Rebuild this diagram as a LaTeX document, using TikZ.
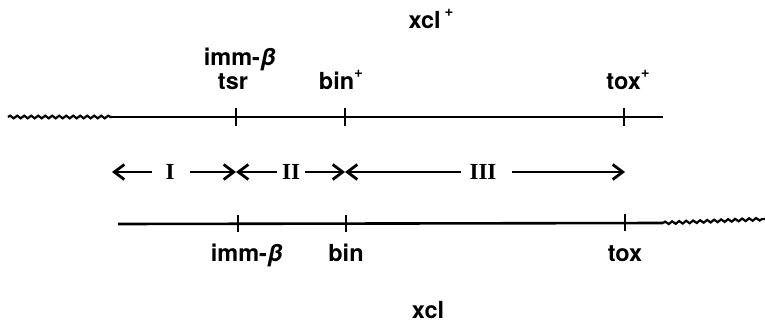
\documentclass[tikz,border=0pt]{standalone}
\usepackage{fontspec}
\setmainfont{TeX Gyre Heros}
\newfontfamily\romfont{Liberation Serif}
\newcommand\supplus{\raisebox{0.5em}{\fontsize{15}{15}\selectfont\bfseries +}}
\usetikzlibrary{arrows.meta,decorations.pathmorphing}
\begin{document}
\begin{tikzpicture}[x=1pt,y=-1pt,
  lbl/.style={font=\bfseries\fontsize{23.5}{25}\selectfont, anchor=base, inner sep=0pt},
  rom/.style={font=\romfont\bfseries\fontsize{23}{25}\selectfont, anchor=center, inner sep=0pt},
  gene/.style={line width=2.6pt},
  tick/.style={line width=2.6pt},
  wavy/.style={line width=2.2pt, decorate, decoration={snake, segment length=7pt, amplitude=1.3pt}},
  reg/.style={line width=2.6pt, -{Straight Barb[length=10pt,width=15pt,line width=2.8pt]}}]
\useasboundingbox (0,0) rectangle (765,324);
% top chromosome
\coordinate (tw) at (8,117);
\coordinate (tl) at (112,117);
\coordinate (tr) at (663,117);
\coordinate (t1) at (236,117);
\coordinate (t2) at (345,117);
\coordinate (t3) at (624,117);
\draw[wavy] (tw) -- (tl);
\draw[gene] (tl) -- (tr);
\foreach \c in {t1,t2,t3} \draw[tick] ([yshift=-9pt]\c) -- ([yshift=9pt]\c);
% bottom chromosome
\coordinate (bl) at (118,224);
\coordinate (br) at (663,223);
\coordinate (bw) at (765,219);
\coordinate (b1) at (238,224);
\coordinate (b2) at (346,224);
\coordinate (b3) at (625,223);
\draw[gene] (bl) -- (br);
\draw[wavy] (br) -- (bw);
\foreach \c in {b1,b2,b3} \draw[tick] ([yshift=-8pt]\c) -- ([yshift=9pt]\c);
% top labels
\node[lbl] (xclp) at (431,28) {xcl\,\supplus};
\node[lbl] (immt) at (240,65) {imm-{\itshape β}};
\node[lbl] (tsr) at (233,89) {tsr};
\node[lbl] (binp) at (341,89) {bin\supplus};
\node[lbl] (toxp) at (628,89) {tox\supplus};
% bottom labels
\node[lbl] (immb) at (247,261) {imm-{\itshape β}};
\node[lbl] (bin) at (346,261) {bin};
\node[lbl] (tox) at (625,261) {tox};
\node[lbl] (xcl) at (428,318) {xcl};
% regions
\node[rom] (r1) at (170,172) {I};
\node[rom] (r2) at (291,172) {II};
\node[rom] (r3) at (483,172) {III};
\coordinate (a0) at (112,172);
\coordinate (a1) at (236,172);
\coordinate (a2) at (345,172);
\coordinate (a3) at (625,172);
\draw[reg] ([xshift=-18pt]r1.center) -- (a0);
\draw[reg] ([xshift=20pt]r1.center) -- (a1);
\draw[reg] ([xshift=-14pt]r2.center) -- (a1);
\draw[reg] ([xshift=14pt]r2.center) -- (a2);
\draw[reg] ([xshift=-22pt]r3.center) -- (a2);
\draw[reg] ([xshift=29pt]r3.center) -- (a3);
\end{tikzpicture}
\end{document}
